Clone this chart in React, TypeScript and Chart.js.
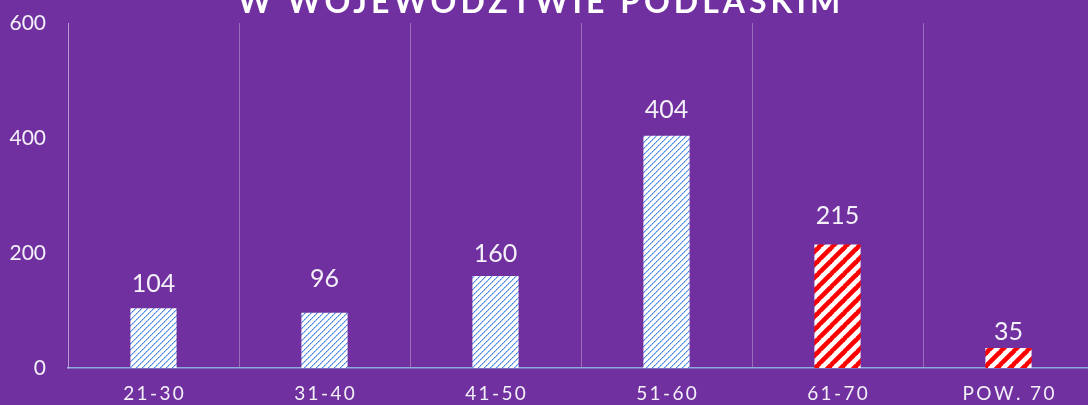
import React, { useEffect, useRef } from "react";
import { Chart, registerables } from "chart.js";

Chart.register(...registerables);

const TITLE = "W WOJEWÓDZTWIE PODLASKIM";
const CATEGORIES = ["21-30", "31-40", "41-50", "51-60", "61-70", "POW. 70"];
const VALUES = [104, 96, 160, 404, 215, 35];
const PATTERN_KIND = ["blue", "blue", "blue", "blue", "red", "red"];
const Y_TICKS = [0, 200, 400, 600];
const LABEL_OFFSETS = [24, 34, 22, 26, 28, 16];

const BG = "#7030A0";
const TEXT = "#f4f0f8";
const GRID = "rgba(255,255,255,0.3)";
const AXIS = "#8faadc";

function makeBluePattern(ctx: CanvasRenderingContext2D) {
  const c = document.createElement("canvas");
  const n = 6;
  c.width = n;
  c.height = n;
  const g = c.getContext("2d")!;
  g.fillStyle = "#ffffff";
  g.fillRect(0, 0, n, n);
  for (let i = 0; i < n; i++) {
    g.fillStyle = i % 2 === 0 ? "#3f7ee6" : "#6f9ff0";
    g.fillRect(i, n - 1 - i, 1, 1);
    g.fillStyle = "#b4cff6";
    g.fillRect((i + 1) % n, n - 1 - i, 1, 1);
  }
  return ctx.createPattern(c, "repeat")!;
}

function makeRedPattern(ctx: CanvasRenderingContext2D) {
  const c = document.createElement("canvas");
  const n = 13;
  c.width = n;
  c.height = n;
  const g = c.getContext("2d")!;
  g.fillStyle = "#ffffff";
  g.fillRect(0, 0, n, n);
  g.strokeStyle = "#ff0000";
  g.lineWidth = 4.6;
  for (const o of [-n, 0, n]) {
    g.beginPath();
    g.moveTo(o - 1, n + 1);
    g.lineTo(o + n + 1, -1);
    g.stroke();
  }
  return ctx.createPattern(c, "repeat")!;
}

const spaced = (s: string) => s.split("").join("\u2009");

export default function App() {
  const ref = useRef<HTMLCanvasElement | null>(null);

  useEffect(() => {
    const canvas = ref.current!;
    const ctx = canvas.getContext("2d")!;
    const blue = makeBluePattern(ctx);
    const red = makeRedPattern(ctx);

    const labelPlugin = {
      id: "valueLabels",
      afterDatasetsDraw(chart: any) {
        const c = chart.ctx;
        const meta = chart.getDatasetMeta(0);
        c.save();
        c.fillStyle = TEXT;
        c.font = "25px Lato";
        c.textAlign = "center";
        c.textBaseline = "middle";
        meta.data.forEach((bar: any, i: number) => {
          c.fillText(String(VALUES[i]), bar.x, bar.y - LABEL_OFFSETS[i]);
        });
        c.restore();
      },
    };

    const titlePlugin = {
      id: "cutTitle",
      afterDraw(chart: any) {
        const c = chart.ctx;
        c.save();
        c.fillStyle = "#ffffff";
        c.font = "bold 32px Lato";
        (c as any).letterSpacing = "4px";
        c.textAlign = "center";
        c.textBaseline = "alphabetic";
        c.fillText(TITLE, 541, 13);
        c.restore();
      },
    };

    const chart = new Chart(canvas, {
      type: "bar",
      data: {
        labels: CATEGORIES,
        datasets: [
          {
            data: VALUES,
            backgroundColor: PATTERN_KIND.map((k) => (k === "red" ? red : blue)),
            borderWidth: 0,
            categoryPercentage: 1,
            barPercentage: 0.27,
          },
        ],
      },
      options: {
        responsive: false,
        animation: false,
        devicePixelRatio: 1,
        layout: { padding: { top: 23, right: 16, left: 0, bottom: 0 } },
        plugins: {
          legend: { display: false },
          tooltip: { enabled: false },
          title: { display: false },
        },
        scales: {
          x: {
            grid: { color: GRID, lineWidth: 1, drawTicks: false, offset: true },
            border: { color: AXIS, width: 1.5 },
            ticks: {
              color: TEXT,
              font: { family: "Lato", size: 19 },
              padding: 14,
              maxRotation: 0,
              autoSkip: false,
              callback: (_v: any, i: number) => spaced(CATEGORIES[i]),
            },
            afterFit: (s: any) => {
              s.height = 37;
            },
          },
          y: {
            min: 0,
            max: 600,
            grid: { display: false, drawTicks: false },
            border: { color: GRID, width: 1 },
            afterBuildTicks: (s: any) => {
              s.ticks = Y_TICKS.map((v) => ({ value: v }));
            },
            ticks: {
              color: TEXT,
              font: { family: "Lato", size: 21 },
              padding: 22,
            },
            afterFit: (s: any) => {
              s.width = 68;
              s.paddingTop = 0;
              s.paddingBottom = 0;
            },
          },
        },
      },
      plugins: [labelPlugin, titlePlugin],
    });
    return () => chart.destroy();
  }, []);

  return (
    <div
      style={{
        position: "absolute",
        left: 0,
        top: 0,
        width: 1088,
        height: 405,
        overflow: "hidden",
        background: BG,
      }}
    >
      <canvas ref={ref} width={1110} height={405} style={{ display: "block" }} />
    </div>
  );
}
